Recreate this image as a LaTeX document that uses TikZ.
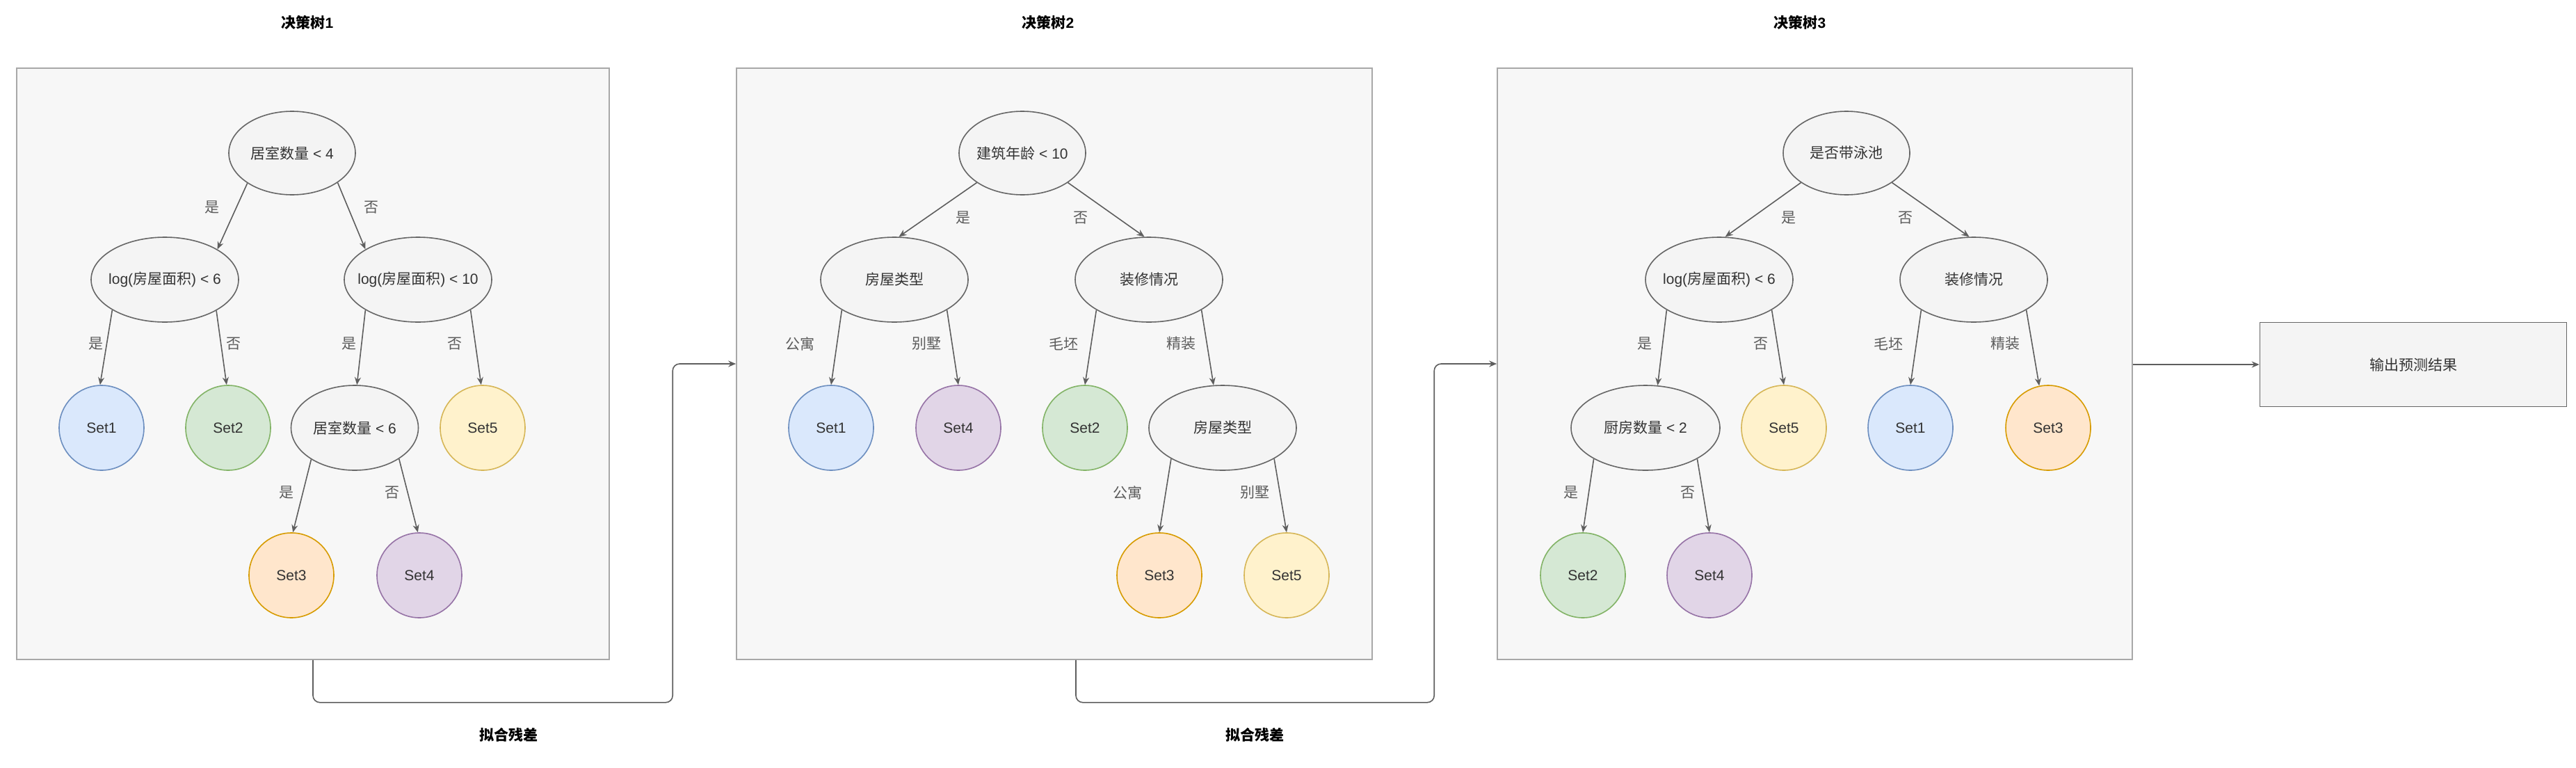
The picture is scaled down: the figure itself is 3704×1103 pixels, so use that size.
\documentclass[tikz,border=0pt]{standalone}
\usepackage{fontspec}
\setmainfont{Liberation Sans}
\newfontfamily\cjk{Noto Sans CJK SC}
\usetikzlibrary{shapes.geometric,arrows.meta,calc}
\definecolor{boxline}{HTML}{A8A8A8}
\definecolor{boxfill}{HTML}{F7F7F7}
\definecolor{ndline}{HTML}{666666}
\definecolor{ndfill}{HTML}{F4F4F4}
\definecolor{ndtext}{HTML}{333333}
\definecolor{lbltext}{HTML}{5C5C5C}
\definecolor{edgecol}{HTML}{5E5E5E}
\definecolor{bluefill}{HTML}{DAE8FC}\definecolor{blueline}{HTML}{6C8EBF}
\definecolor{greenfill}{HTML}{D5E8D4}\definecolor{greenline}{HTML}{82B366}
\definecolor{orangefill}{HTML}{FFE6CC}\definecolor{orangeline}{HTML}{D79B00}
\definecolor{purplefill}{HTML}{E1D5E7}\definecolor{purpleline}{HTML}{9673A6}
\definecolor{yellowfill}{HTML}{FFF2CC}\definecolor{yellowline}{HTML}{D6B656}
\newcommand\dfont{\fontsize{10.5pt}{12pt}\selectfont}
\begin{document}
\begin{tikzpicture}[x=0.5pt,y=-0.5pt,
  every node/.style={font=\dfont},
  treebox/.style={draw=boxline, fill=boxfill, line width=0.8pt, inner sep=0pt},
  dec/.style={ellipse, draw=ndline, fill=ndfill, text=ndtext, line width=0.8pt, inner xsep=-60pt, inner ysep=0pt},
  rootn/.style={dec, minimum width=91pt, minimum height=60pt},
  midn/.style={dec, minimum width=106pt, minimum height=61pt},
  setn/.style={circle, draw=#1line, fill=#1fill, text=ndtext, minimum size=61pt, inner sep=0pt, line width=0.8pt},
  lbl/.style={text=lbltext, inner sep=0pt},
  ttl/.style={font=\dfont\bfseries, text=black, inner sep=0pt},
  edge/.style={draw=edgecol, line width=0.8pt, -{Stealth[length=5.5pt,width=4.5pt]}},
  outbox/.style={rectangle, draw=ndline, fill=ndfill, text=ndtext, line width=0.8pt, minimum width=220.5pt, minimum height=60.5pt, inner sep=0pt}
]
\fill[white] (0,0) rectangle (3704,1103);
\useasboundingbox (0,0) rectangle (3704,1103);

% titles
\node[ttl] (t1) at (442,32) {{\cjk 决策树}1};
\node[ttl] (t2) at (1507,32) {{\cjk 决策树}2};
\node[ttl] (t3) at (2588,32) {{\cjk 决策树}3};

% boxes
\node[treebox, minimum width=426pt, minimum height=425pt] (box1) at (450,523) {};
\node[treebox, minimum width=457pt, minimum height=425pt] (box2) at (1516,523) {};
\node[treebox, minimum width=456.5pt, minimum height=425pt] (box3) at (2609.5,523) {};

% ---------- tree 1
\node[rootn] (r1) at (420,220) {{\cjk 居室数量} < 4};
\node[midn] (a1) at (237,402) {log({\cjk 房屋面积}) < 6};
\node[midn] (b1) at (601,402) {log({\cjk 房屋面积}) < 10};
\node[setn=blue] (s11) at (146,615) {Set1};
\node[setn=green] (s12) at (328,615) {Set2};
\node[dec, minimum width=91.5pt, minimum height=61pt] (c1) at (510,615) {{\cjk 居室数量} < 6};
\node[setn=yellow] (s15) at (694,615) {Set5};
\node[setn=orange] (s13) at (419,827) {Set3};
\node[setn=purple] (s14) at (603,827) {Set4};

\draw[edge] (r1.214) -- (a1.30);
\draw[edge] (r1.327) -- (b1.150);
\draw[edge] (a1.210) -- (s11.92);
\draw[edge] (a1.329) -- (s12.92);
\draw[edge] (b1.210) -- (c1.87);
\draw[edge] (b1.330) -- (s15.92);
\draw[edge] (c1.216) -- (s13.88);
\draw[edge] (c1.325) -- (s14.92);

\node[lbl] (l11) at (305,298) {\cjk 是};
\node[lbl] (l12) at (534,298) {\cjk 否};
\node[lbl] (l13) at (138,494) {\cjk 是};
\node[lbl] (l14) at (336,494) {\cjk 否};
\node[lbl] (l15) at (502,494) {\cjk 是};
\node[lbl] (l16) at (654,494) {\cjk 否};
\node[lbl] (l17) at (412,708) {\cjk 是};
\node[lbl] (l18) at (564,708) {\cjk 否};

% ---------- tree 2
\node[rootn] (r2) at (1470,220) {{\cjk 建筑年龄} < 10};
\node[midn] (a2) at (1286,402) {\cjk 房屋类型};
\node[midn] (b2) at (1652,402) {\cjk 装修情况};
\node[setn=blue] (s21) at (1195,615) {Set1};
\node[setn=purple] (s24) at (1378,615) {Set4};
\node[setn=green] (s22) at (1560,615) {Set2};
\node[midn] (c2) at (1758,615) {\cjk 房屋类型};
\node[setn=orange] (s23) at (1667,827) {Set3};
\node[setn=yellow] (s25) at (1850,827) {Set5};

\draw[edge] (r2.213) -- (a2.84);
\draw[edge] (r2.327) -- (b2.96);
\draw[edge] (a2.210) -- (s21.north);
\draw[edge] (a2.330) -- (s24.north);
\draw[edge] (b2.210) -- (s22.north);
\draw[edge] (b2.330) -- (c2.102);
\draw[edge] (c2.211) -- (s23.north);
\draw[edge] (c2.329) -- (s25.north);

\node[lbl] (l21) at (1385,313) {\cjk 是};
\node[lbl] (l22) at (1554,313) {\cjk 否};
\node[lbl] (l23) at (1150,494) {\cjk 公寓};
\node[lbl] (l24) at (1332,494) {\cjk 别墅};
\node[lbl] (l25) at (1529,494) {\cjk 毛坯};
\node[lbl] (l26) at (1698,494) {\cjk 精装};
\node[lbl] (l27) at (1621,708) {\cjk 公寓};
\node[lbl] (l28) at (1804,708) {\cjk 别墅};

% ---------- tree 3
\node[rootn] (r3) at (2655,220) {\cjk 是否带泳池};
\node[midn] (a3) at (2472,402) {log({\cjk 房屋面积}) < 6};
\node[midn] (b3) at (2838,402) {\cjk 装修情况};
\node[dec, minimum width=107pt, minimum height=61pt] (c3) at (2366,615) {{\cjk 厨房数量} < 2};
\node[setn=yellow] (s35) at (2565,615) {Set5};
\node[setn=blue] (s31) at (2747,615) {Set1};
\node[setn=orange] (s33) at (2945,615) {Set3};
\node[setn=green] (s32) at (2276,827) {Set2};
\node[setn=purple] (s34) at (2458,827) {Set4};

\draw[edge] (r3.213) -- (a3.82);
\draw[edge] (r3.327) -- (b3.96);
\draw[edge] (a3.210) -- (c3.74);
\draw[edge] (a3.330) -- (s35.north);
\draw[edge] (b3.210) -- (s31.north);
\draw[edge] (b3.330) -- (s33.102);
\draw[edge] (c3.211) -- (s32.north);
\draw[edge] (c3.329) -- (s34.north);

\node[lbl] (l31) at (2572,313) {\cjk 是};
\node[lbl] (l32) at (2740,313) {\cjk 否};
\node[lbl] (l33) at (2365,494) {\cjk 是};
\node[lbl] (l34) at (2532,494) {\cjk 否};
\node[lbl] (l35) at (2715,494) {\cjk 毛坯};
\node[lbl] (l36) at (2883,494) {\cjk 精装};
\node[lbl] (l37) at (2259,708) {\cjk 是};
\node[lbl] (l38) at (2427,708) {\cjk 否};

% ---------- output
\node[outbox] (out) at (3470,524) {\cjk 输出预测结果};
\draw[edge] (box3.east |- out.west) -- (out.west);

% ---------- residual connectors
\draw[edge, rounded corners=5pt] (box1.south) -- ++(0,61) -| ($(box2.west)+(-91,0)$) -- (box2.west);
\draw[edge, rounded corners=5pt] ($(box2.south)+(31,0)$) -- ++(0,61) -| ($(box3.west)+(-90,0)$) -- (box3.west);
\node[ttl] (res1) at (731,1056) {\cjk 拟合残差};
\node[ttl] (res2) at (1804,1056) {\cjk 拟合残差};
\end{tikzpicture}
\end{document}
